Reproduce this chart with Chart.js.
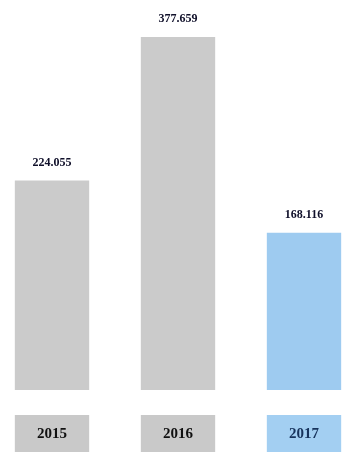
<!DOCTYPE html>
<html>
<head>
<meta charset="utf-8">
<script src="https://cdn.jsdelivr.net/npm/chart.js@4.4.0/dist/chart.umd.min.js"></script>
<style>
  html, body { margin: 0; padding: 0; background: #fff; overflow: hidden; }
  body { width: 344px; height: 461px; position: relative; }
  #chart { position: absolute; left: -11px; top: 0; }
</style>
</head>
<body>
<canvas id="chart" width="378" height="461"></canvas>
<script>
// values
const years = ['2015', '2016', '2017'];
const values = [224055, 377659, 168116];
const barColors = ['#cbcbcb', '#cbcbcb', '#9ecbf0'];
const boxColors = ['#c9c9c9', '#c9c9c9', '#a3cff2'];
const textColors = ['#111111', '#111111', '#17335c'];

// value labels above the bars (de style: 224.055)
const valueLabels = {
    id: 'valueLabels',
    afterDatasetsDraw(chart) {
        const ctx = chart.ctx;
        const meta = chart.getDatasetMeta(0);
        ctx.save();
        ctx.font = 'bold 12px "Liberation Serif"';
        ctx.textAlign = 'center';
        ctx.textBaseline = 'middle';
        ctx.fillStyle = '#10102a';
        meta.data.forEach((bar, i) => {
            const txt = values[i].toLocaleString('de-DE');
            ctx.fillText(txt, bar.x, bar.y - 18);
        });
        ctx.restore();
    }
};

// year labels in boxes under the bars
const yearBoxes = {
    id: 'yearBoxes',
    afterDatasetsDraw(chart) {
        const ctx = chart.ctx;
        const meta = chart.getDatasetMeta(0);
        ctx.save();
        ctx.font = 'bold 15px "Liberation Serif"';
        ctx.textAlign = 'center';
        ctx.textBaseline = 'middle';
        meta.data.forEach((bar, i) => {
            const w = bar.width;
            const top = chart.chartArea.bottom + 25;
            ctx.fillStyle = boxColors[i];
            ctx.fillRect(bar.x - w / 2, top, w, 37);
            ctx.fillStyle = textColors[i];
            ctx.fillText(years[i], bar.x, top + 19);
        });
        ctx.restore();
    }
};

new Chart(document.getElementById('chart').getContext('2d'), {
    type: 'bar',
    data: {
        labels: years,
        datasets: [{
            data: values,
            backgroundColor: barColors,
            borderWidth: 0,
            categoryPercentage: 1,
            barPercentage: 0.59
        }]
    },
    options: {
        responsive: false,
        animation: false,
        devicePixelRatio: 1,
        layout: { padding: { top: 16, bottom: 71, left: 0, right: 0 } },
        plugins: {
            legend: { display: false },
            tooltip: { enabled: false }
        },
        scales: {
            x: { display: false, offset: true },
            y: { display: false, min: 0, max: 400000 }
        }
    },
    plugins: [valueLabels, yearBoxes]
});
</script>
</body>
</html>
